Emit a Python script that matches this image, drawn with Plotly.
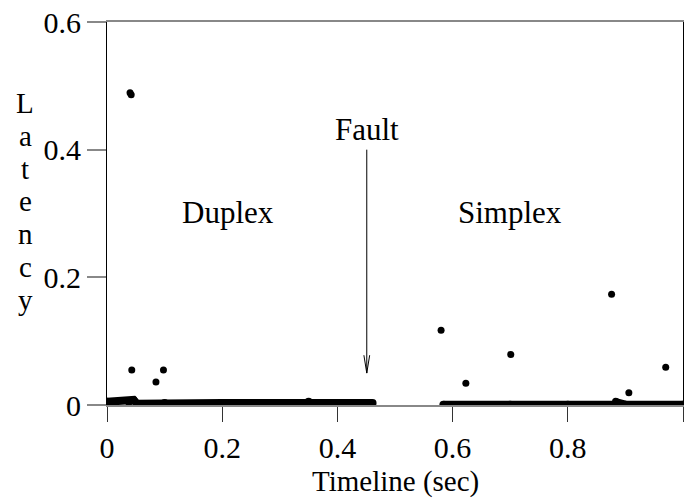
import plotly.graph_objects as go

# dense baseline bands
duplex_band_x = [0.0, 0.038, 0.046, 0.052, 0.10, 0.2, 0.3, 0.345, 0.35, 0.4, 0.461]
duplex_band_y = [0.005, 0.005, 0.008, 0.002, 0.003, 0.003, 0.003, 0.003, 0.005, 0.003, 0.003]
simplex_band_x = [0.584, 0.7, 0.8, 0.88, 0.885, 0.9, 1.0]
simplex_band_y = [0.0005, 0.0005, 0.0005, 0.0005, 0.004, 0.0005, 0.0005]

# outlier points
outlier_x = [0.040, 0.042, 0.043, 0.085, 0.098, 0.580, 0.623, 0.701, 0.876, 0.883, 0.906, 0.970]
outlier_y = [0.489, 0.486, 0.055, 0.036, 0.055, 0.117, 0.034, 0.079, 0.1735, 0.006, 0.019, 0.059]

x_ticks = [0, 0.2, 0.4, 0.6, 0.8, 1]
x_tick_labels = ["0", "0.2", "0.4", "0.6", "0.8", "1"]
y_ticks = [0, 0.2, 0.4, 0.6]
y_tick_labels = ["0", "0.2", "0.4", "0.6"]
y_title = "Latency"
x_title = "Timeline (sec)"

fault_x = 0.451
fault_top = 0.40
fault_tip = 0.05

FONT = "Liberation Serif"
FS = 30

fig = go.Figure()
for bx, by in [(duplex_band_x, duplex_band_y), (simplex_band_x, simplex_band_y)]:
    fig.add_trace(go.Scatter(x=bx, y=by, mode="lines+markers",
                             line=dict(color="black", width=8),
                             marker=dict(color="black", size=8),
                             showlegend=False, hoverinfo="skip"))
fig.add_trace(go.Scatter(x=outlier_x, y=outlier_y, mode="markers",
                         marker=dict(color="black", size=7),
                         showlegend=False))

# Fault arrow
dx = 0.005
fig.add_shape(type="line", x0=fault_x, x1=fault_x, y0=fault_top, y1=fault_tip,
              line=dict(color="black", width=1))
fig.add_shape(type="path",
              path=f"M {fault_x-dx},{fault_tip+0.028} L {fault_x},{fault_tip} L {fault_x+dx},{fault_tip+0.028}",
              line=dict(color="black", width=1))

fig.add_annotation(x=fault_x, y=fault_top, text="Fault", showarrow=False,
                   yanchor="bottom", yshift=1, font=dict(size=31, color="black", family=FONT))
fig.add_annotation(x=0.21, y=0.301, text="Duplex", showarrow=False,
                   font=dict(size=31, color="black", family=FONT))
fig.add_annotation(x=0.70, y=0.301, text="Simplex", showarrow=False,
                   font=dict(size=31, color="black", family=FONT))
fig.add_annotation(xref="paper", yref="paper", x=0.5, y=(405 - 481) / 383, text=x_title,
                   showarrow=False, yanchor="middle",
                   font=dict(size=29, color="black", family=FONT))
for i, ch in enumerate(y_title):
    fig.add_annotation(xref="paper", yref="paper", x=(25 - 107) / 576,
                       y=(405 - (103 + 32.8 * i)) / 383, text=ch, showarrow=False,
                       xanchor="center", yanchor="middle",
                       font=dict(size=29, color="black", family=FONT))

fig.update_layout(
    width=688, height=499,
    margin=dict(l=107, r=5, t=22, b=94),
    paper_bgcolor="white", plot_bgcolor="white",
    font=dict(family=FONT, size=FS, color="black"),
    xaxis=dict(range=[0, 1], tickvals=x_ticks, ticktext=x_tick_labels,
               tickfont=dict(size=FS, family=FONT, color="black"),
               showgrid=False, zeroline=False, showline=True, linecolor="#888888",
               linewidth=2, mirror=True, ticks="outside", ticklen=15, tickcolor="#333333",
               tickwidth=1),
    yaxis=dict(range=[0, 0.6], tickvals=y_ticks, ticktext=y_tick_labels,
               tickfont=dict(size=FS, family=FONT, color="black"),
               showgrid=False, zeroline=False, showline=True, linecolor="black",
               linewidth=1, mirror=True, ticks="outside", ticklen=19, tickcolor="#888888",
               tickwidth=2),
)
fig.write_html("out.html")
